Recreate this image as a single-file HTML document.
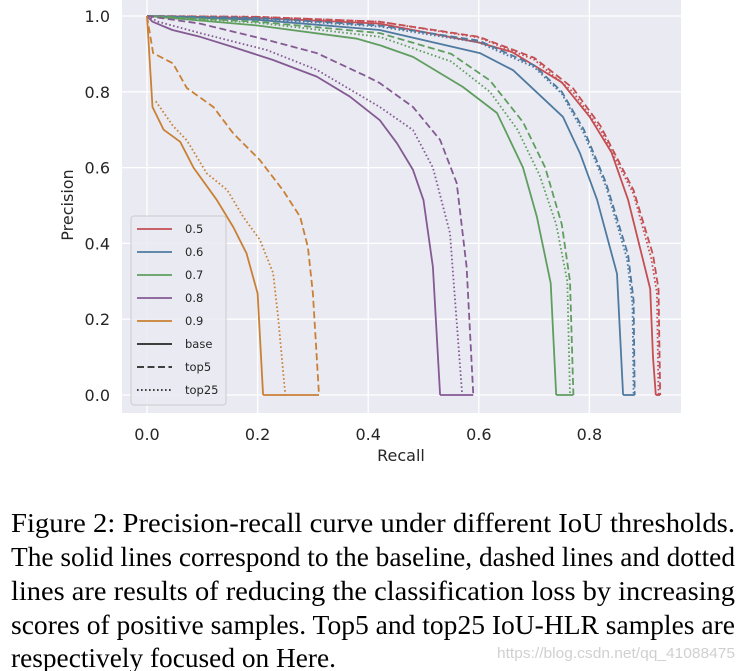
<!DOCTYPE html>
<html><head><meta charset="utf-8"><style>
html,body{margin:0;padding:0;background:#fff;}
svg{display:block;}
</style></head><body>
<svg id="fig" width="743" height="671" viewBox="0 0 743 671" xmlns="http://www.w3.org/2000/svg">
<rect x="122" y="0" width="559" height="413" fill="#eaeaf2"/>
<g id="grid"></g>
<g id="series"></g>
<g id="ticks" font-family="DejaVu Sans, Liberation Sans, sans-serif" font-size="16" fill="#262626"></g>
<text transform="translate(73,205) rotate(-90)" text-anchor="middle" font-family="DejaVu Sans, Liberation Sans, sans-serif" font-size="16" fill="#262626">Precision</text>
<text x="401" y="461" text-anchor="middle" font-family="DejaVu Sans, Liberation Sans, sans-serif" font-size="16" fill="#262626">Recall</text>
<g id="legend"></g>
<g font-family="Liberation Serif, serif" font-size="27" fill="#000">
<text x="11" y="532" textLength="724" lengthAdjust="spacingAndGlyphs">Figure 2:  Precision-recall curve under different IoU thresholds.</text>
<text x="11" y="566" textLength="724" lengthAdjust="spacingAndGlyphs">The solid lines correspond to the baseline, dashed lines and dotted</text>
<text x="11" y="600" textLength="724" lengthAdjust="spacingAndGlyphs">lines are results of reducing the classification loss by increasing</text>
<text x="11" y="634" textLength="724" lengthAdjust="spacingAndGlyphs">scores of positive samples. Top5 and top25 IoU-HLR samples are</text>
<text x="11" y="667" textLength="325" lengthAdjust="spacingAndGlyphs">respectively focused on Here.</text>
</g>
<text x="497" y="658" textLength="238" lengthAdjust="spacingAndGlyphs" font-family="Liberation Sans, sans-serif" font-size="15" fill="#d0d0d0">https://blog.csdn.net/qq_41088475</text>
</svg>
<script>
const xTicks = [0.0, 0.2, 0.4, 0.6, 0.8];
const yTicks = [0.0, 0.2, 0.4, 0.6, 0.8, 1.0];
const thresholds = ["0.5", "0.6", "0.7", "0.8", "0.9"];
const styles = ["base", "top5", "top25"];
const colors = ["#c44e52", "#4f7aa0", "#5f9e5f", "#845a93", "#c98035"];

const r05_base = [[0,1],[0.2,0.995],[0.42,0.98],[0.6,0.93],[0.66,0.905],[0.75,0.825],[0.8,0.735],[0.84,0.64],[0.87,0.515],[0.91,0.28],[0.915,0.1],[0.92,0]];
const r05_top5 = [[0,1],[0.2,0.998],[0.42,0.985],[0.6,0.945],[0.7,0.89],[0.77,0.81],[0.82,0.71],[0.88,0.54],[0.915,0.37],[0.925,0.28],[0.928,0]];
const r05_top25 = [[0,1],[0.2,0.998],[0.42,0.985],[0.6,0.943],[0.7,0.885],[0.77,0.8],[0.82,0.7],[0.88,0.53],[0.912,0.36],[0.922,0.27],[0.925,0]];
const r06_base = [[0,1],[0.2,0.99],[0.421,0.963],[0.602,0.902],[0.662,0.857],[0.752,0.734],[0.783,0.638],[0.814,0.515],[0.85,0.32],[0.861,0]];
const r06_top5 = [[0,1],[0.2,0.995],[0.42,0.975],[0.6,0.935],[0.7,0.87],[0.75,0.8],[0.79,0.7],[0.83,0.56],[0.87,0.37],[0.88,0.25],[0.882,0]];
const r06_top25 = [[0,1],[0.2,0.993],[0.42,0.972],[0.6,0.93],[0.7,0.865],[0.75,0.795],[0.79,0.69],[0.83,0.55],[0.868,0.36],[0.878,0.24],[0.88,0]];
const r07_base = [[0,1],[0.2,0.975],[0.38,0.94],[0.421,0.923],[0.481,0.892],[0.571,0.813],[0.633,0.744],[0.68,0.6],[0.705,0.47],[0.73,0.295],[0.74,0]];
const r07_top5 = [[0,1],[0.2,0.985],[0.421,0.955],[0.55,0.9],[0.62,0.83],[0.68,0.72],[0.72,0.6],[0.75,0.45],[0.765,0.3],[0.771,0]];
const r07_top25 = [[0,1],[0.2,0.982],[0.421,0.945],[0.55,0.88],[0.62,0.8],[0.67,0.7],[0.71,0.58],[0.74,0.45],[0.76,0.3],[0.765,0]];
const r08_base = [[0,1],[0.01,0.985],[0.046,0.963],[0.096,0.945],[0.156,0.918],[0.228,0.884],[0.307,0.84],[0.367,0.787],[0.421,0.725],[0.452,0.664],[0.481,0.594],[0.5,0.514],[0.517,0.338],[0.53,0]];
const r08_top5 = [[0,1],[0.096,0.98],[0.217,0.937],[0.307,0.902],[0.398,0.84],[0.421,0.823],[0.481,0.76],[0.53,0.673],[0.56,0.559],[0.578,0.338],[0.59,0]];
const r08_top25 = [[0,1],[0.02,0.985],[0.096,0.955],[0.217,0.91],[0.307,0.858],[0.421,0.76],[0.481,0.699],[0.517,0.6],[0.548,0.427],[0.57,0]];
const r09_base = [[0,1],[0.01,0.76],[0.03,0.7],[0.06,0.668],[0.084,0.6],[0.126,0.515],[0.156,0.443],[0.18,0.374],[0.2,0.268],[0.21,0]];
const r09_top5 = [[0,1],[0.011,0.902],[0.047,0.875],[0.072,0.81],[0.12,0.76],[0.156,0.69],[0.204,0.62],[0.246,0.54],[0.277,0.47],[0.291,0.39],[0.3,0.268],[0.311,0]];
const r09_top25 = [[0.016,0.775],[0.047,0.71],[0.072,0.672],[0.108,0.585],[0.145,0.541],[0.174,0.47],[0.204,0.41],[0.228,0.322],[0.237,0.206],[0.25,0]];

const seriesData = [
  [r05_base, r05_top5, r05_top25],
  [r06_base, r06_top5, r06_top25],
  [r07_base, r07_top5, r07_top25],
  [r08_base, r08_top5, r08_top25],
  [r09_base, r09_top5, r09_top25]
];
const dashes = ["", "7,3.5", "1.6,2.4"];

const NS = "http://www.w3.org/2000/svg";
function xs(v){ return 147 + v * 553; }
function ys(v){ return 395 - v * 379; }
function mk(tag, attrs){ const e = document.createElementNS(NS, tag); for (const k in attrs) e.setAttribute(k, attrs[k]); return e; }

const grid = document.getElementById('grid');
const ticks = document.getElementById('ticks');
xTicks.forEach(t => {
  const l = mk('line', {x1: xs(t), x2: xs(t), y1: 0, y2: 413, stroke: '#fff', 'stroke-width': 1.3});
  
  
  grid.appendChild(l);
  const tx = mk('text', {x: xs(t), y: 440, 'text-anchor': 'middle'});
  tx.textContent = t.toFixed(1);
  
  
  ticks.appendChild(tx);
});
yTicks.forEach(t => {
  const l = mk('line', {x1: 122, x2: 681, y1: ys(t), y2: ys(t), stroke: '#fff', 'stroke-width': 1.3});
  
  
  grid.appendChild(l);
  const tx = mk('text', {x: 110, y: ys(t) + 6, 'text-anchor': 'end'});
  tx.textContent = t.toFixed(1);
  
  
  ticks.appendChild(tx);
});

const sg = document.getElementById('series');
seriesData.forEach((grp, i) => {
  const ends = grp.map(s => s[s.length - 1][0]);
  const floor = mk('line', {x1: xs(Math.min(...ends)), x2: xs(Math.max(...ends)), y1: ys(0), y2: ys(0), stroke: colors[i], 'stroke-width': 1.8});
  
  
  sg.appendChild(floor);
  grp.forEach((pts, j) => {
    const d = pts.map((p, k) => (k ? 'L' : 'M') + xs(p[0]).toFixed(1) + ',' + ys(p[1]).toFixed(1)).join(' ');
    const attrs = {d: d, fill: 'none', stroke: colors[i], 'stroke-width': 1.8, 'stroke-linejoin': 'round'};
    if (dashes[j]) attrs['stroke-dasharray'] = dashes[j];
    const p = mk('path', attrs);
    
    
    sg.appendChild(p);
  });
});

const lg = document.getElementById('legend');
const box = mk('rect', {x: 131, y: 216, width: 95, height: 189, rx: 3, fill: '#eaeaf2', stroke: '#cccccc', 'stroke-width': 1, 'fill-opacity': 0.85});


lg.appendChild(box);
const labels = thresholds.concat(styles);
labels.forEach((lab, k) => {
  const y = 229 + k * 23;
  const col = k < 5 ? colors[k] : '#262626';
  const la = {x1: 137, x2: 172, y1: y, y2: y, stroke: col, 'stroke-width': 1.8};
  if (k >= 5 && dashes[k - 5]) la['stroke-dasharray'] = dashes[k - 5];
  const l = mk('line', la);
  
  
  lg.appendChild(l);
  const t = mk('text', {x: 185, y: y + 4, 'font-family': 'DejaVu Sans, Liberation Sans, sans-serif', 'font-size': 11.5, fill: '#262626'});
  t.textContent = lab;
  
  
  lg.appendChild(t);
});
</script>
</body></html>
